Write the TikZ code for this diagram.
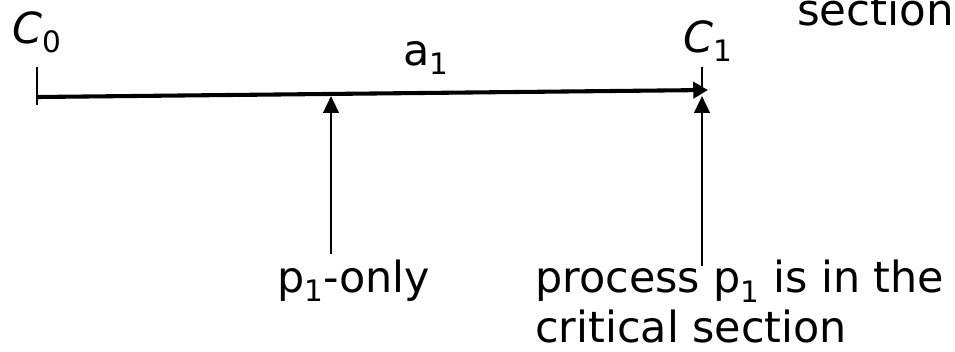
\documentclass[tikz,border=0pt]{standalone}
\usepackage{fontspec}
\setmainfont{DejaVu Sans}
\usetikzlibrary{arrows.meta,positioning}

\newcommand{\idx}[1]{\raisebox{-0.22em}{\fontsize{21}{21}\selectfont #1}}

\begin{document}
\begin{tikzpicture}[
  x=0.025cm, y=-0.025cm,
  lbl/.style={inner sep=0pt, anchor=base west,
              font=\fontsize{30.5}{35}\selectfont},
  timeline/.style={line width=2.9pt,
                   -{Triangle[length=10.5pt, width=11.5pt]}},
  tick/.style={line width=1.4pt},
  pointer/.style={line width=1.8pt,
                  -{Triangle[length=12pt, width=11pt]}}]
\useasboundingbox (0,0) rectangle (955,351);

% the time line from C0 to C1
\coordinate (start) at (37,97);
\coordinate (stop)  at (708,90);
\draw[tick] (37,67) -- (37,105);
\draw[tick] (702,67) -- (702,92);
\draw[timeline] (start) -- (stop);

\node[lbl] (c0) at (12,43)  {\textit{C}\idx{0}};
\node[lbl] (a1) at (403,65) {a\idx{1}};
\node[lbl] (c1) at (683,52) {\textit{C}\idx{1}};
\node[lbl, font=\fontsize{31}{36}\selectfont] (top) at (797,25) {section};

% the two points on the line
\node[lbl] (only) at (277,292) {p\idx{1}-only};
\node[lbl, align=left] (inside) at (535,342)
  {process p\idx{1} is in the\\critical section};

\coordinate (from1) at (331,254);
\coordinate (to1)   at (331,96);
\coordinate (from2) at (702,266);
\coordinate (to2)   at (702,96);
\draw[pointer] (from1) -- (to1);
\draw[pointer] (from2) -- (to2);
\end{tikzpicture}
\end{document}
